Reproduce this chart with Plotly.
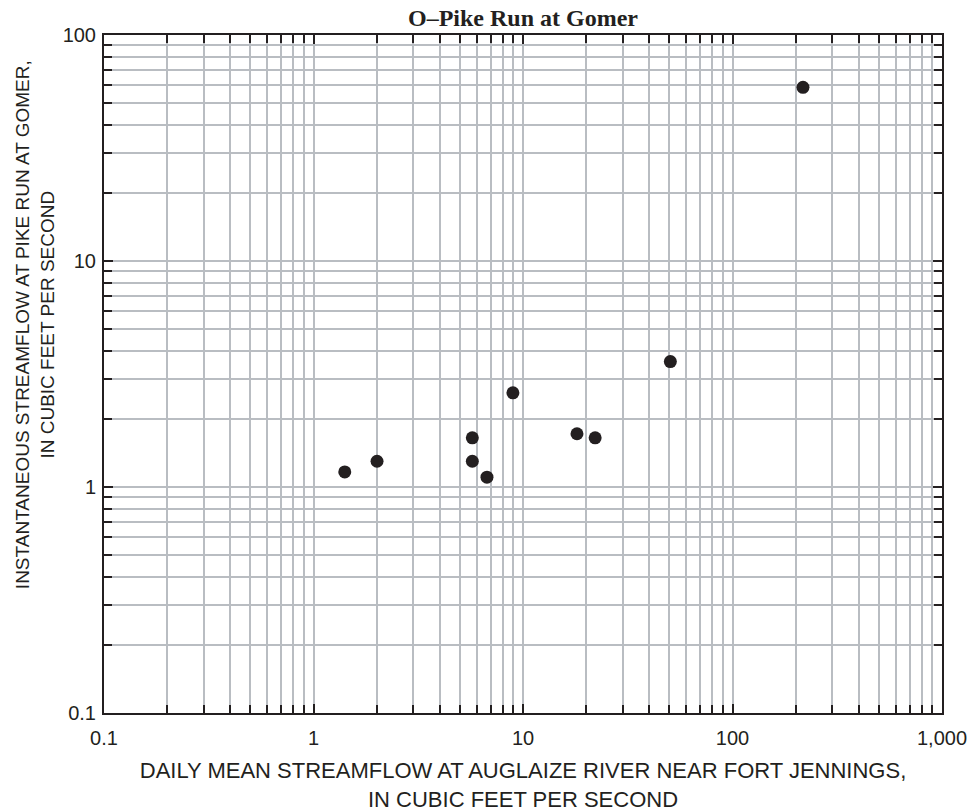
import plotly.graph_objects as go

title = "O\u2013Pike Run at Gomer"
x_title = "DAILY MEAN STREAMFLOW AT AUGLAIZE RIVER NEAR FORT JENNINGS,<br>IN CUBIC FEET PER SECOND"
y_title = "INSTANTANEOUS STREAMFLOW AT PIKE RUN AT GOMER,<br>IN CUBIC FEET PER SECOND"

daily_mean = [1.41, 2.01, 5.73, 5.73, 6.73, 8.95, 18.1, 22.1, 50.5, 217]
instantaneous = [1.166, 1.30, 1.65, 1.30, 1.105, 2.61, 1.72, 1.65, 3.59, 58.7]

x_tickvals = [0.1, 1, 10, 100, 1000]
x_ticktext = ["0.1", "1", "10", "100", "1,000"]
y_tickvals = [0.1, 1, 10, 100]
y_ticktext = ["0.1", "1", "10", "100"]

grid = "#b9bdc2"
ink = "#231f20"
sans = "Liberation Sans, Arial, sans-serif"

fig = go.Figure()
fig.add_trace(go.Scatter(
    x=daily_mean, y=instantaneous, mode="markers",
    marker=dict(size=13, color=ink, line=dict(width=0)),
    showlegend=False,
))

axis_common = dict(
    type="log", automargin=False,
    showline=True, linecolor=ink, linewidth=2, mirror="allticks",
    ticks="inside", ticklen=9, tickwidth=2, tickcolor=ink,
    showgrid=True, gridcolor=grid, gridwidth=2,
    zeroline=False,
    tickfont=dict(family=sans, size=20, color=ink),
    minor=dict(ticks="inside", ticklen=8, tickwidth=2, tickcolor=ink,
               showgrid=True, gridcolor=grid, gridwidth=2,
               dtick="D1"),
)

fig.update_layout(
    width=979, height=812,
    margin=dict(l=104, r=37, t=35, b=99),
    paper_bgcolor="white", plot_bgcolor="white",
    title=dict(text="<b>" + title + "</b>", x=0.5, xanchor="center",
               xref="paper", yref="container", y=1 - 18.0 / 812, yanchor="middle",
               font=dict(family="Liberation Serif, Times New Roman, serif", size=24, color=ink)),
    xaxis=dict(axis_common, range=[-1, 3], tickvals=x_tickvals, ticktext=x_ticktext,
               ticklabelstandoff=6,
               title=dict(text=x_title, standoff=17,
                          font=dict(family=sans, size=22, color=ink))),
    yaxis=dict(axis_common, range=[-1, 2], tickvals=y_tickvals, ticktext=y_ticktext,
               ticklabelstandoff=2),
)

fig.add_annotation(
    text=y_title, textangle=-90,
    xref="paper", yref="paper",
    x=(35 - 104) / 838, y=(712.7 - 325) / (712.7 - 35),
    xanchor="center", yanchor="middle", showarrow=False,
    font=dict(family=sans, size=19, color=ink),
)

fig.write_html("out.html")
